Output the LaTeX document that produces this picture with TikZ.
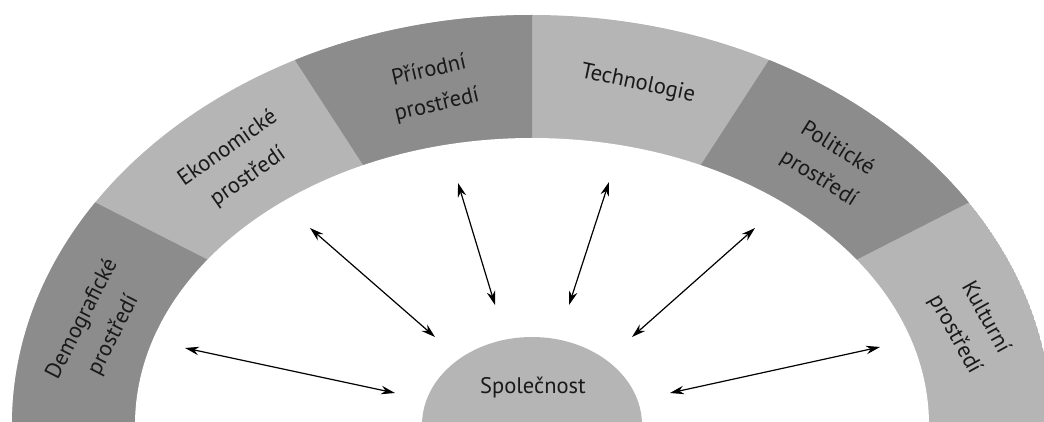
\documentclass[tikz,border=0pt]{standalone}
\usepackage{fontspec}
\setmainfont{PT Sans}
\usetikzlibrary{arrows.meta}

\definecolor{segdark}{gray}{0.55}
\definecolor{seglight}{gray}{0.71}
\definecolor{txt}{gray}{0.1}

\begin{document}
\begin{tikzpicture}[x=1pt,y=1pt,>={Stealth[length=14pt,width=8.5pt]},line width=1.2pt,
  seglabel/.style={align=center,text=txt,font=\fontsize{22.5}{35}\selectfont}]
  \useasboundingbox (0,0) rectangle (1044,421);
  \clip (0,0) rectangle (1044,421);
  \coordinate (c) at (532,-4);
  % half ring, six sectors
  \begin{scope}[shift={(c)}]
    \clip (0,0) ellipse [x radius=520, y radius=410];
    \fill[seglight] (0,0) ellipse [x radius=520, y radius=410];
    \fill[segdark] (0,0) -- (153:800) -- (190:800) -- cycle;
    \fill[segdark] (0,0) -- (90:800) -- (123:800) -- cycle;
    \fill[segdark] (0,0) -- (27:800) -- (57:800) -- cycle;
  \end{scope}
  \fill[white] (c) ellipse [x radius=397, y radius=287];
  \fill[seglight] (c) ellipse [x radius=110, y radius=88];

  \node[seglabel,rotate=63] (demo) at (98,94) {Demografické\\prostředí};
  \node[seglabel,rotate=35] (ekon) at (238,258) {Ekonomické\\prostředí};
  \node[seglabel,rotate=13] (prir) at (433,333) {Přírodní\\prostředí};
  \node[seglabel,rotate=-12] (tech) at (638,337) {Technologie};
  \node[seglabel,rotate=-32] (polit) at (828,257) {Politické\\prostředí};
  \node[seglabel,rotate=-61] (kult) at (970,95) {Kulturní\\prostředí};
  \node[seglabel] (spol) at (533,33) {Společnost};

  % arrow ends
  \coordinate (demo-o) at (185,73);  \coordinate (demo-i) at (395,28);
  \coordinate (ekon-o) at (310,193); \coordinate (ekon-i) at (435,84);
  \coordinate (prir-o) at (458,238); \coordinate (prir-i) at (495,116);
  \coordinate (tech-o) at (609,239); \coordinate (tech-i) at (569,116);
  \coordinate (polit-o) at (755,193); \coordinate (polit-i) at (632,84);
  \coordinate (kult-o) at (880,74);  \coordinate (kult-i) at (670,28);
  \path[<->]
    (demo-o) edge (demo-i)
    (ekon-o) edge (ekon-i)
    (prir-o) edge (prir-i)
    (tech-o) edge (tech-i)
    (polit-o) edge (polit-i)
    (kult-o) edge (kult-i);
\end{tikzpicture}
\end{document}
